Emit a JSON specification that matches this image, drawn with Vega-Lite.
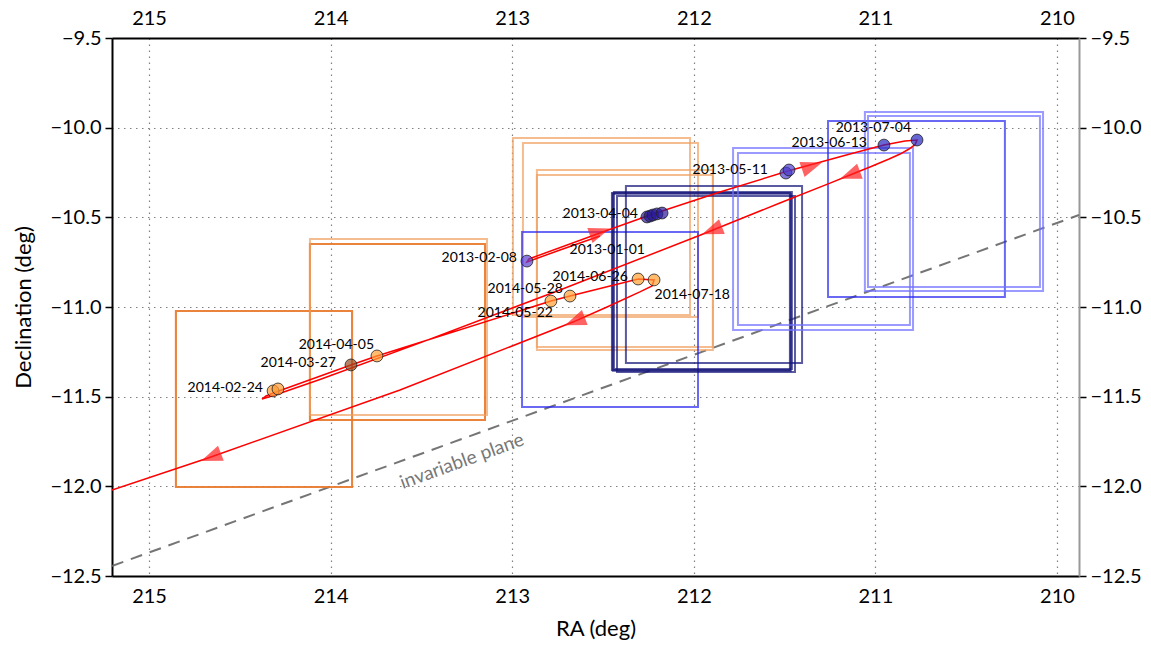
{
  "$schema": "https://vega.github.io/schema/vega-lite/v6.json",
  "width": 967,
  "height": 538,
  "autosize": {"type": "none"},
  "padding": {"left": 112, "top": 38, "right": 72, "bottom": 75},
  "background": "white",
  "config": {"view": {"stroke": null}, "font": "Lato"},
  "datasets": {
    "plane": [{"ra": 215.204, "dec": -12.444}, {"ra": 209.879, "dec": -10.487}],
    "planeLabel": [{"text": "invariable plane", "ra": 213.277, "dec": -11.86}],
    "boxes": [
      {"date": "2014-02-24", "ra1": 214.852, "ra2": 213.882, "dec1": -11.022, "dec2": -12.004},
      {"date": "2014-02-24", "ra1": 214.852, "ra2": 213.882, "dec1": -11.022, "dec2": -12.004},
      {"date": "2014-03-27", "ra1": 214.114, "ra2": 213.150, "dec1": -10.649, "dec2": -11.630},
      {"date": "2014-03-27", "ra1": 214.114, "ra2": 213.150, "dec1": -10.649, "dec2": -11.630},
      {"date": "2014-04-05", "ra1": 214.114, "ra2": 213.139, "dec1": -10.621, "dec2": -11.602},
      {"date": "2014-05-22", "ra1": 212.996, "ra2": 212.021, "dec1": -10.058, "dec2": -11.045},
      {"date": "2014-05-28", "ra1": 212.941, "ra2": 211.977, "dec1": -10.086, "dec2": -11.056},
      {"date": "2014-06-26", "ra1": 212.864, "ra2": 211.895, "dec1": -10.236, "dec2": -11.223},
      {"date": "2014-07-18", "ra1": 212.864, "ra2": 211.895, "dec1": -10.264, "dec2": -11.240},
      {"date": "2013-02-08", "ra1": 212.946, "ra2": 211.977, "dec1": -10.582, "dec2": -11.558},
      {"date": "2013-04-04", "ra1": 212.451, "ra2": 211.471, "dec1": -10.364, "dec2": -11.351},
      {"date": "2013-04-04", "ra1": 212.446, "ra2": 211.466, "dec1": -10.369, "dec2": -11.356},
      {"date": "2013-04-04", "ra1": 212.440, "ra2": 211.460, "dec1": -10.359, "dec2": -11.346},
      {"date": "2013-04-04", "ra1": 212.423, "ra2": 211.443, "dec1": -10.381, "dec2": -11.363},
      {"date": "2013-04-04", "ra1": 212.374, "ra2": 211.404, "dec1": -10.325, "dec2": -11.312},
      {"date": "2013-05-11", "ra1": 211.784, "ra2": 210.793, "dec1": -10.113, "dec2": -11.128},
      {"date": "2013-05-11", "ra1": 211.757, "ra2": 210.810, "dec1": -10.141, "dec2": -11.100},
      {"date": "2013-06-13", "ra1": 211.261, "ra2": 210.287, "dec1": -9.963, "dec2": -10.944},
      {"date": "2013-07-04", "ra1": 211.058, "ra2": 210.077, "dec1": -9.913, "dec2": -10.911},
      {"date": "2013-07-04", "ra1": 211.041, "ra2": 210.094, "dec1": -9.935, "dec2": -10.889}
    ],
    "path": [
      {"seq": 1, "ra": 212.517, "dec": -10.604},
      {"seq": 2, "ra": 212.737, "dec": -10.682},
      {"seq": 3, "ra": 212.919, "dec": -10.749},
      {"seq": 4, "ra": 212.908, "dec": -10.732},
      {"seq": 5, "ra": 212.517, "dec": -10.587},
      {"seq": 6, "ra": 212.241, "dec": -10.487},
      {"seq": 7, "ra": 211.856, "dec": -10.359},
      {"seq": 8, "ra": 211.482, "dec": -10.242},
      {"seq": 9, "ra": 211.140, "dec": -10.147},
      {"seq": 10, "ra": 210.953, "dec": -10.097},
      {"seq": 11, "ra": 210.837, "dec": -10.074},
      {"seq": 12, "ra": 210.771, "dec": -10.069},
      {"seq": 13, "ra": 210.782, "dec": -10.095},
      {"seq": 14, "ra": 210.815, "dec": -10.119},
      {"seq": 15, "ra": 210.864, "dec": -10.147},
      {"seq": 16, "ra": 210.925, "dec": -10.175},
      {"seq": 17, "ra": 211.030, "dec": -10.219},
      {"seq": 18, "ra": 211.140, "dec": -10.264},
      {"seq": 19, "ra": 211.250, "dec": -10.309},
      {"seq": 20, "ra": 211.526, "dec": -10.420},
      {"seq": 21, "ra": 211.966, "dec": -10.600},
      {"seq": 22, "ra": 212.737, "dec": -10.905},
      {"seq": 23, "ra": 213.508, "dec": -11.200},
      {"seq": 24, "ra": 214.059, "dec": -11.404},
      {"seq": 25, "ra": 214.306, "dec": -11.491},
      {"seq": 26, "ra": 214.378, "dec": -11.513},
      {"seq": 27, "ra": 214.356, "dec": -11.496},
      {"seq": 28, "ra": 214.301, "dec": -11.474},
      {"seq": 29, "ra": 213.888, "dec": -11.323},
      {"seq": 30, "ra": 213.745, "dec": -11.273},
      {"seq": 31, "ra": 212.787, "dec": -10.967},
      {"seq": 32, "ra": 212.682, "dec": -10.939},
      {"seq": 33, "ra": 212.307, "dec": -10.844},
      {"seq": 34, "ra": 212.219, "dec": -10.849},
      {"seq": 35, "ra": 212.230, "dec": -10.883},
      {"seq": 36, "ra": 212.297, "dec": -10.916},
      {"seq": 37, "ra": 212.478, "dec": -11.000},
      {"seq": 38, "ra": 212.666, "dec": -11.084},
      {"seq": 39, "ra": 213.618, "dec": -11.463},
      {"seq": 40, "ra": 214.675, "dec": -11.842},
      {"seq": 41, "ra": 215.204, "dec": -12.020},
      {"seq": 42, "ra": 215.490, "dec": -12.126}
    ],
    "arrows": [
      {"ra": 212.517, "dec": -10.582, "dir": "east"},
      {"ra": 211.349, "dec": -10.214, "dir": "east"},
      {"ra": 211.140, "dec": -10.264, "dir": "west"},
      {"ra": 211.900, "dec": -10.573, "dir": "west"},
      {"ra": 212.655, "dec": -11.080, "dir": "west"},
      {"ra": 214.659, "dec": -11.837, "dir": "west"}
    ],
    "obs": [
      {"date": "2013-02-08", "ra": 212.919, "dec": -10.744},
      {"date": "2013-04-04", "ra": 212.258, "dec": -10.498},
      {"date": "2013-04-04", "ra": 212.241, "dec": -10.493},
      {"date": "2013-04-04", "ra": 212.225, "dec": -10.487},
      {"date": "2013-04-04", "ra": 212.203, "dec": -10.481},
      {"date": "2013-04-04", "ra": 212.175, "dec": -10.476},
      {"date": "2013-05-11", "ra": 211.493, "dec": -10.253},
      {"date": "2013-05-11", "ra": 211.476, "dec": -10.236},
      {"date": "2013-06-13", "ra": 210.953, "dec": -10.097},
      {"date": "2013-07-04", "ra": 210.771, "dec": -10.069},
      {"date": "2014-02-24", "ra": 214.317, "dec": -11.468},
      {"date": "2014-02-24", "ra": 214.290, "dec": -11.457},
      {"date": "2014-03-27", "ra": 213.888, "dec": -11.323},
      {"date": "2014-04-05", "ra": 213.745, "dec": -11.273},
      {"date": "2014-05-22", "ra": 212.787, "dec": -10.967},
      {"date": "2014-05-28", "ra": 212.682, "dec": -10.939},
      {"date": "2014-06-26", "ra": 212.307, "dec": -10.844},
      {"date": "2014-07-18", "ra": 212.219, "dec": -10.849}
    ],
    "labels": [
      {"text": "2013-01-01", "ra": 212.269, "dec": -10.682},
      {"text": "2013-02-08", "ra": 212.974, "dec": -10.727},
      {"text": "2013-04-04", "ra": 212.308, "dec": -10.481},
      {"text": "2013-05-11", "ra": 211.592, "dec": -10.236},
      {"text": "2013-06-13", "ra": 211.047, "dec": -10.086},
      {"text": "2013-07-04", "ra": 210.804, "dec": -10.002},
      {"text": "2014-02-24", "ra": 214.373, "dec": -11.452},
      {"text": "2014-03-27", "ra": 213.971, "dec": -11.312},
      {"text": "2014-04-05", "ra": 213.761, "dec": -11.212},
      {"text": "2014-05-22", "ra": 212.776, "dec": -11.033},
      {"text": "2014-05-28", "ra": 212.721, "dec": -10.900},
      {"text": "2014-06-26", "ra": 212.363, "dec": -10.833},
      {"text": "2014-07-18", "ra": 211.801, "dec": -10.933}
    ]
  },
  "layer": [
    {
      "data": {"name": "plane"},
      "mark": {"type": "line", "color": "#666666", "strokeWidth": 2, "strokeDash": [12, 8], "opacity": 0.9},
      "encoding": {
        "x": {"field": "ra", "type": "quantitative",
          "scale": {"domain": [209.879, 215.204], "reverse": true, "nice": false, "zero": false},
          "axis": {"orient": "bottom", "title": "RA (deg)", "values": [215, 214.5, 214, 213.5, 213, 212.5, 212, 211.5, 211, 210.5, 210],
            "labelExpr": "datum.value % 1 === 0 ? datum.label : ''", "format": "d",
            "grid": true, "gridDash": [1.5, 4.5], "gridColor": "#808080", "gridWidth": 1.2,
            "ticks": false, "domainColor": "#000000", "domainWidth": 2,
            "labelFont": "Lato", "labelFontSize": 20, "labelColor": "#000000", "labelPadding": 10,
            "titleFont": "Lato", "titleFontSize": 22, "titleFontWeight": "normal", "titleColor": "#000000", "titlePadding": 12}},
        "y": {"field": "dec", "type": "quantitative",
          "scale": {"domain": [-12.5, -9.5], "nice": false, "zero": false},
          "axis": {"orient": "left", "title": "Declination (deg)", "values": [-12.5, -12, -11.5, -11, -10.5, -10, -9.5], "format": ".1f",
            "grid": true, "gridDash": [1.5, 4.5], "gridColor": "#808080", "gridWidth": 1.2,
            "ticks": true, "tickSize": 7, "tickColor": "#000000", "tickWidth": 1.5, "domainColor": "#000000", "domainWidth": 2,
            "labelFont": "Lato", "labelFontSize": 20, "labelColor": "#000000", "labelPadding": 4,
            "titleFont": "Lato", "titleFontSize": 22, "titleFontWeight": "normal", "titleColor": "#000000", "titlePadding": 14}}
      }
    },
    {
      "data": {"name": "planeLabel"},
      "mark": {"type": "text", "angle": 340, "fontSize": 19, "color": "#777777", "font": "Lato", "align": "center", "baseline": "middle"},
      "encoding": {
        "x": {"field": "ra", "type": "quantitative", "axis": null},
        "y": {"field": "dec", "type": "quantitative", "axis": null},
        "text": {"field": "text"}
      }
    },
    {
      "data": {"name": "boxes"},
      "mark": {"type": "rect", "filled": false, "strokeWidth": 2, "strokeOpacity": 0.7},
      "encoding": {
        "x": {"field": "ra1", "type": "quantitative", "axis": null},
        "x2": {"field": "ra2"},
        "y": {"field": "dec1", "type": "quantitative", "axis": null},
        "y2": {"field": "dec2"},
        "stroke": {"field": "date", "type": "nominal", "legend": null,
          "scale": {"domain": ["2013-02-08", "2013-04-04", "2013-05-11", "2013-06-13", "2013-07-04", "2014-02-24", "2014-03-27", "2014-04-05", "2014-05-22", "2014-05-28", "2014-06-26", "2014-07-18"],
            "range": ["#2a2af0", "#141478", "#7070ff", "#2a2af0", "#7070ff", "#e8782a", "#e8782a", "#f0a060", "#f0a060", "#f0a060", "#f0a060", "#f0a060"]}}
      }
    },
    {
      "data": {"name": "path"},
      "mark": {"type": "line", "color": "#ff0000", "strokeWidth": 1.5, "clip": true},
      "encoding": {
        "x": {"field": "ra", "type": "quantitative", "axis": null},
        "y": {"field": "dec", "type": "quantitative", "axis": null},
        "order": {"field": "seq", "type": "quantitative"}
      }
    },
    {
      "data": {"name": "arrows"},
      "transform": [{"filter": "datum.dir === 'east'"}],
      "mark": {"type": "point", "shape": "M -1 -0.75 L 1 0 L -1 0.75 Z", "angle": 341, "size": 450, "filled": true, "color": "#ff2020", "opacity": 0.7},
      "encoding": {
        "x": {"field": "ra", "type": "quantitative", "axis": null},
        "y": {"field": "dec", "type": "quantitative", "axis": null}
      }
    },
    {
      "data": {"name": "arrows"},
      "transform": [{"filter": "datum.dir === 'west'"}],
      "mark": {"type": "point", "shape": "M -1 -0.75 L 1 0 L -1 0.75 Z", "angle": 159, "size": 450, "filled": true, "color": "#ff2020", "opacity": 0.7},
      "encoding": {
        "x": {"field": "ra", "type": "quantitative", "axis": null},
        "y": {"field": "dec", "type": "quantitative", "axis": null}
      }
    },
    {
      "data": {"name": "obs"},
      "mark": {"type": "circle", "size": 140, "fillOpacity": 0.7, "stroke": "#222222", "strokeWidth": 1, "strokeOpacity": 0.8},
      "encoding": {
        "x": {"field": "ra", "type": "quantitative",
          "axis": {"orient": "top", "title": null, "values": [215, 214, 213, 212, 211, 210], "format": "d",
            "grid": false, "ticks": false, "domainColor": "#000000", "domainWidth": 2,
            "labelFont": "Lato", "labelFontSize": 20, "labelColor": "#000000", "labelPadding": 10}},
        "y": {"field": "dec", "type": "quantitative",
          "axis": {"orient": "right", "title": null, "values": [-12.5, -12, -11.5, -11, -10.5, -10, -9.5], "format": ".1f",
            "grid": false, "ticks": true, "tickSize": 7, "tickColor": "#000000", "tickWidth": 1.5, "domainColor": "#999999", "domainWidth": 2,
            "labelFont": "Lato", "labelFontSize": 20, "labelColor": "#000000", "labelPadding": 4}},
        "fill": {"field": "date", "type": "nominal", "legend": null,
          "scale": {"domain": ["2013-02-08", "2013-04-04", "2013-05-11", "2013-06-13", "2013-07-04", "2014-02-24", "2014-03-27", "2014-04-05", "2014-05-22", "2014-05-28", "2014-06-26", "2014-07-18"],
            "range": ["#5a40d0", "#2a1a9a", "#4a3acc", "#2626c0", "#2626c0", "#ff9a30", "#9a4a20", "#ffa030", "#ffa030", "#ffa030", "#ffa030", "#ffa030"]}}
      }
    },
    {
      "data": {"name": "labels"},
      "mark": {"type": "text", "align": "right", "baseline": "middle", "fontSize": 14, "font": "Lato", "color": "#000000"},
      "encoding": {
        "x": {"field": "ra", "type": "quantitative", "axis": null},
        "y": {"field": "dec", "type": "quantitative", "axis": null},
        "text": {"field": "text"}
      }
    }
  ]
}
